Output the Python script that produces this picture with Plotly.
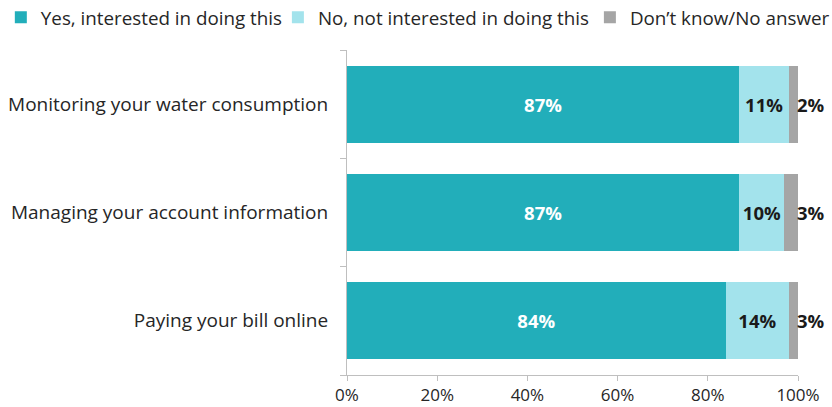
import plotly.graph_objects as go

# Survey results: interest in online water-utility services
categories = [
    "Monitoring your water consumption",
    "Managing your account information",
    "Paying your bill online",
]
yes_vals = [87, 87, 84]
no_vals = [11, 10, 14]
dk_vals = [2, 3, 3]

series_names = [
    "Yes, interested in doing this",
    "No, not interested in doing this",
    "Don\u2019t know/No answer",
]
colors = ["#22AEBA", "#A3E3EC", "#A5A5A5"]

x_ticks = [0, 20, 40, 60, 80, 100]
x_tick_labels = ["0%", "20%", "40%", "60%", "80%", "100%"]

FONT = "Open Sans"
TEXT = "#262626"
LABEL_SIZE = 18.5

fig = go.Figure()

fig.add_trace(go.Bar(
    y=categories, x=yes_vals, orientation="h", name=series_names[0],
    marker=dict(color=colors[0], line=dict(width=0)),
    text=[f"{v}%" for v in yes_vals], textposition="inside",
    insidetextanchor="middle",
    textfont=dict(color="white", size=LABEL_SIZE, family=FONT, weight="bold"),
    legend="legend",
))
fig.add_trace(go.Bar(
    y=categories, x=no_vals, orientation="h", name=series_names[1],
    marker=dict(color=colors[1], line=dict(width=0)),
    text=[f"{v}%" for v in no_vals], textposition="inside",
    insidetextanchor="middle",
    textfont=dict(color="#1a1a1a", size=LABEL_SIZE, family=FONT, weight="bold"),
    legend="legend2",
))
fig.add_trace(go.Bar(
    y=categories, x=dk_vals, orientation="h", name=series_names[2],
    marker=dict(color=colors[2], line=dict(width=0)),
    legend="legend3",
))

# "Don't know" values sit just past the end of each bar
for cat, a, b, c in zip(categories, yes_vals, no_vals, dk_vals):
    fig.add_annotation(
        x=min(a + b + c, 100), y=cat, text=f"<b>{c}%</b>", showarrow=False,
        xanchor="left", xshift=-3,
        font=dict(size=LABEL_SIZE, color="#1a1a1a", family=FONT),
    )


def legend_box(xpos):
    return dict(
        orientation="h", x=xpos, xref="container", xanchor="left",
        y=1.1, yref="paper", yanchor="middle",
        font=dict(size=18.8, family=FONT, color=TEXT),
        itemwidth=30, bgcolor="rgba(0,0,0,0)",
    )


fig.update_layout(
    barmode="stack",
    bargap=0.29,
    width=832, height=407,
    margin=dict(l=347, r=34, t=50, b=32, autoexpand=False),
    paper_bgcolor="white", plot_bgcolor="white",
    font=dict(family=FONT, size=17, color=TEXT),
    showlegend=True,
    legend=legend_box(0.001),
    legend2=legend_box(0.334),
    legend3=legend_box(0.709),
    xaxis=dict(
        range=[0, 100], tickvals=x_ticks, ticktext=x_tick_labels,
        showgrid=False, zeroline=False,
        showline=True, linecolor="#BFBFBF", linewidth=1,
        ticks="outside", ticklen=5, tickcolor="#BFBFBF",
        tickfont=dict(size=17, family=FONT, color=TEXT),
    ),
    yaxis=dict(
        categoryorder="array", categoryarray=categories[::-1],
        showgrid=False, zeroline=False,
        showline=True, linecolor="#BFBFBF", linewidth=1,
        ticks="outside", ticklen=6, tickcolor="#BFBFBF",
        tickson="boundaries", ticklabelstandoff=14,
        tickfont=dict(size=19, family=FONT, color=TEXT),
    ),
)

fig.write_html("out.html")
